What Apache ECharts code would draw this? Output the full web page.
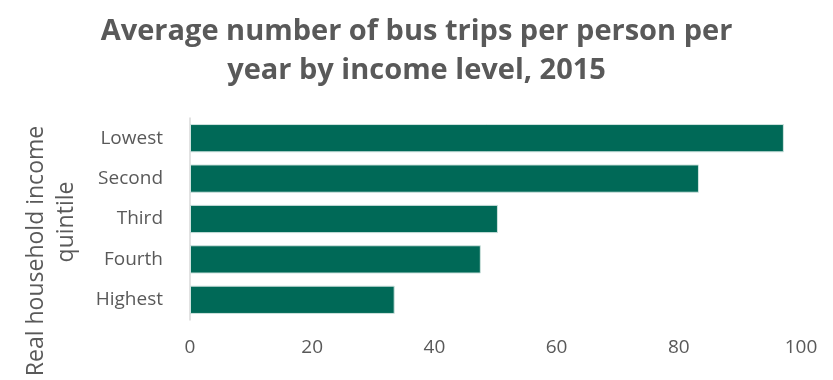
<!DOCTYPE html>
<html>
<head>
<meta charset="utf-8">
<script src="https://cdn.jsdelivr.net/npm/echarts@6/dist/echarts.min.js"></script>
<style>
  html, body { margin: 0; padding: 0; background: #fff; }
  #chart { width: 833px; height: 380px; }
</style>
</head>
<body>
<div id="chart"></div>
<script>
// income quintiles, top to bottom as drawn
const quintiles = ['Lowest', 'Second', 'Third', 'Fourth', 'Highest'];
const tripsPerPerson = [97.2, 83.3, 50.4, 47.6, 33.5];
const xTicks = [0, 20, 40, 60, 80, 100];

const textColor = '#595959';
const barColor = '#006957';
const font = 'Open Sans';

const chart = echarts.init(document.getElementById('chart'));

chart.setOption({
  animation: false,
  title: {
    text: 'Average number of bus trips per person per\nyear by income level, 2015',
    left: 'center',
    top: 7,
    textStyle: {
      fontFamily: font,
      fontSize: 29,
      fontWeight: 'bold',
      color: textColor,
      lineHeight: 39
    }
  },
  grid: {
    left: 190,
    right: 32,
    top: 118,
    bottom: 60
  },
  xAxis: {
    type: 'value',
    min: xTicks[0],
    max: xTicks[xTicks.length - 1],
    interval: 20,
    axisLine: { show: false },
    axisTick: { show: false },
    splitLine: { show: false },
    axisLabel: {
      color: textColor,
      fontFamily: font,
      fontSize: 19,
      margin: 18
    }
  },
  yAxis: {
    type: 'category',
    inverse: true,
    data: quintiles,
    axisLine: { show: true, lineStyle: { color: '#d9d9d9', width: 1.5 } },
    axisTick: { show: false },
    axisLabel: {
      color: textColor,
      fontFamily: font,
      fontSize: 19,
      margin: 27
    }
  },
  graphic: [
    {
      type: 'text',
      x: 36,
      y: 251,
      rotation: Math.PI / 2,
      style: {
        text: 'Real household income',
        fill: textColor,
        font: '23px "Open Sans"',
        textAlign: 'center',
        textVerticalAlign: 'middle'
      }
    },
    {
      type: 'text',
      x: 66,
      y: 222,
      rotation: Math.PI / 2,
      style: {
        text: 'quintile',
        fill: textColor,
        font: '23px "Open Sans"',
        textAlign: 'center',
        textVerticalAlign: 'middle'
      }
    }
  ],
  series: [
    {
      type: 'bar',
      data: tripsPerPerson,
      barCategoryGap: '30%',
      itemStyle: {
        color: barColor,
        borderColor: '#cfe3df',
        borderWidth: 1
      }
    }
  ]
});
</script>
</body>
</html>
